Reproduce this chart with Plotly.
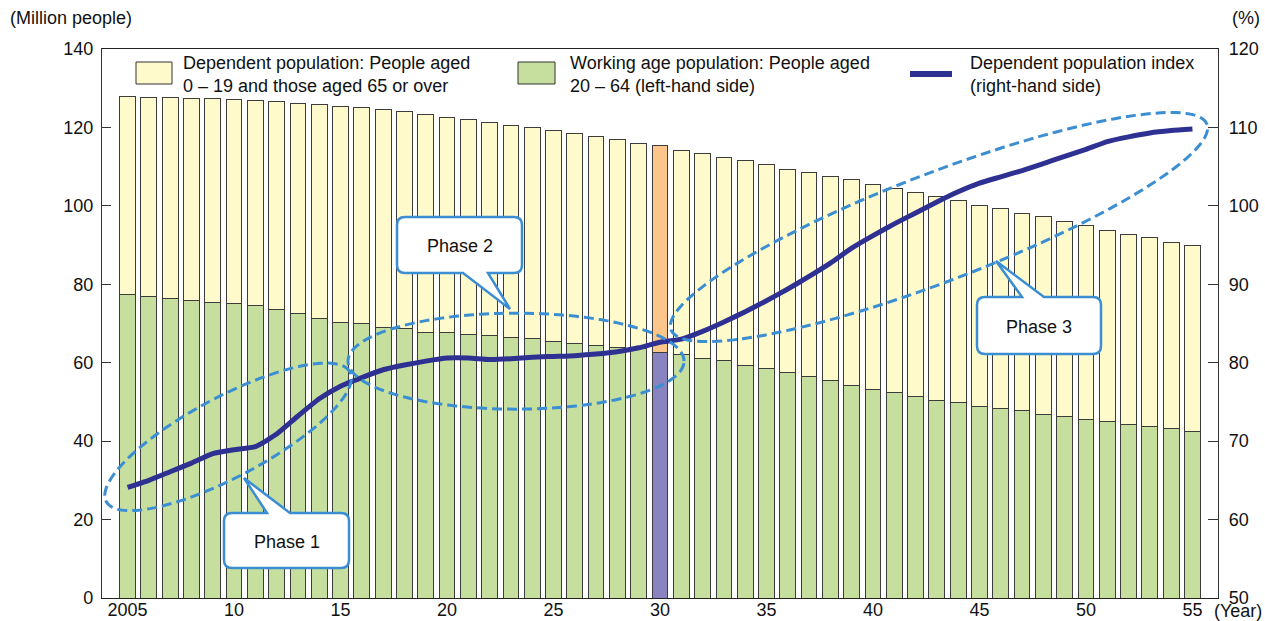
import math
import plotly.graph_objects as go

# ---------------- data ----------------
years = list(range(2005, 2056))
total_pop = [127.8, 127.7, 127.6, 127.4, 127.3, 127.1, 126.8, 126.5, 126.2, 125.8,
             125.4, 125.0, 124.5, 124.0, 123.3, 122.6, 121.9, 121.3, 120.6, 119.9,
             119.3, 118.5, 117.7, 116.9, 116.0, 115.3, 114.2, 113.4, 112.4, 111.5,
             110.6, 109.3, 108.5, 107.4, 106.6, 105.4, 104.5, 103.5, 102.5, 101.3,
             100.1, 99.3, 98.0, 97.2, 95.9, 94.9, 93.7, 92.8, 92.0, 90.6, 89.8]
working_pop = [77.4, 76.8, 76.4, 75.9, 75.3, 75.0, 74.7, 73.5, 72.5, 71.3,
               70.3, 69.9, 69.1, 68.6, 67.8, 67.6, 67.2, 66.9, 66.4, 66.1,
               65.4, 65.0, 64.5, 64.0, 63.5, 62.6, 62.1, 61.2, 60.6, 59.4,
               58.5, 57.5, 56.4, 55.4, 54.2, 53.2, 52.3, 51.4, 50.4, 49.8,
               48.9, 48.3, 47.7, 46.8, 46.2, 45.5, 44.9, 44.3, 43.7, 43.1, 42.5]
dependent_index = [64.1, 65.0, 66.1, 67.2, 68.4, 68.9, 69.3, 70.9, 73.2, 75.4,
                   77.0, 78.1, 79.1, 79.7, 80.2, 80.6, 80.6, 80.4, 80.5, 80.7,
                   80.8, 80.9, 81.1, 81.4, 81.9, 82.6, 83.0, 84.0, 85.2, 86.5,
                   87.9, 89.4, 91.0, 92.7, 94.6, 96.2, 97.7, 99.1, 100.5, 101.8,
                   102.9, 103.7, 104.5, 105.4, 106.3, 107.2, 108.2, 108.8, 109.3, 109.6, 109.8]
dependent_pop = [round(t - w, 2) for t, w in zip(total_pop, working_pop)]
highlight_year = 2030

xtick_vals = list(range(2005, 2056, 5))
xtick_text = ["2005", "10", "15", "20", "25", "30", "35", "40", "45", "50", "55"]

names = ["Dependent population: People aged<br>0 – 19 and those aged 65 or over",
         "Working age population: People aged<br>20 – 64 (left-hand side)",
         "Dependent population index<br>(right-hand side)"]

# Phase ellipses: (label, centre year, centre value on left axis, semi-axes px, angle deg)
phases = [("Phase 1", 2009.72, 41.1, 138, 40, 28),
          ("Phase 2", 2023.24, 60.4, 168, 48, 0),
          ("Phase 3", 2043.1, 94.6, 287, 54, 21)]

# ---------------- styling ----------------
FONT = "Liberation Sans, Arial, Helvetica, sans-serif"
YELLOW, GREEN = "#fffacc", "#c6df9f"
ORANGE, PURPLE = "#fcc68a", "#8983c0"
NAVY = "#2e3192"
BLUE = "#3b8ed2"
W, H = 1265, 621
PL, PR, PT, PB = 102, 47, 49, 23
PW, PH = W - PL - PR, H - PT - PB
X0, X1 = 2003.8, 2056.2
YMAX = 140


def xpx(year):
    return PL + (year - X0) / (X1 - X0) * PW


def ypx(val):
    return PT + PH - val / YMAX * PH


def paper(px, py):
    return (px - PL) / PW, (PT + PH - py) / PH


def fmt(px, py):
    a, b = paper(px, py)
    return f"{a:.5f},{b:.5f}"


fig = go.Figure()

green_cols = [PURPLE if y == highlight_year else GREEN for y in years]
yellow_cols = [ORANGE if y == highlight_year else YELLOW for y in years]

fig.add_trace(go.Bar(x=years, y=working_pop, marker=dict(color=green_cols, line=dict(color="#3c3c3c", width=1)),
                     width=0.74, name=names[1], showlegend=False))
fig.add_trace(go.Bar(x=years, y=dependent_pop, marker=dict(color=yellow_cols, line=dict(color="#3c3c3c", width=1)),
                     width=0.74, name=names[0], showlegend=False))
fig.add_trace(go.Scatter(x=years, y=dependent_index, yaxis="y2", mode="lines",
                         line=dict(color=NAVY, width=5, shape="spline", smoothing=0.5),
                         name=names[2], showlegend=False))

shapes = []
annotations = []

# ellipses
for label, cy_year, cy_val, a, b, ang in phases:
    cx, cy = xpx(cy_year), ypx(cy_val)
    th = math.radians(ang)
    pts = []
    n = 120
    for i in range(n + 1):
        t = 2 * math.pi * i / n
        u, v = a * math.cos(t), b * math.sin(t)
        dx = u * math.cos(th) - v * math.sin(th)
        dy = u * math.sin(th) + v * math.cos(th)
        pts.append(fmt(cx + dx, cy - dy))
    path = "M" + " L".join(pts) + " Z"
    shapes.append(dict(type="path", xref="paper", yref="paper", path=path,
                       line=dict(color=BLUE, width=3, dash="10px,5px"), layer="above"))


# callouts
def callout(x0, y0, x1, y1, side, b0, b1, tip, r=8):
    p = [f"M{fmt(x0 + r, y0)}"]
    if side == "top":
        p += [f"L{fmt(b0, y0)}", f"L{fmt(*tip)}", f"L{fmt(b1, y0)}"]
    p += [f"L{fmt(x1 - r, y0)}", f"Q{fmt(x1, y0)} {fmt(x1, y0 + r)}",
          f"L{fmt(x1, y1 - r)}", f"Q{fmt(x1, y1)} {fmt(x1 - r, y1)}"]
    if side == "bottom":
        p += [f"L{fmt(b1, y1)}", f"L{fmt(*tip)}", f"L{fmt(b0, y1)}"]
    p += [f"L{fmt(x0 + r, y1)}", f"Q{fmt(x0, y1)} {fmt(x0, y1 - r)}",
          f"L{fmt(x0, y0 + r)}", f"Q{fmt(x0, y0)} {fmt(x0 + r, y0)}", "Z"]
    return " ".join(p)


callouts = [("Phase 1", (224, 513, 349, 568), "top", (267, 290), (244, 478)),
            ("Phase 2", (397, 217, 522, 273), "bottom", (463, 488), (510, 309)),
            ("Phase 3", (977, 297, 1101, 354), "top", (1022, 1044), (996, 261))]
for label, (x0, y0, x1, y1), side, (b0, b1), tip in callouts:
    shapes.append(dict(type="path", xref="paper", yref="paper",
                       path=callout(x0, y0, x1, y1, side, b0, b1, tip),
                       fillcolor="white", line=dict(color=BLUE, width=2.5), layer="above"))
    cxp, cyp = paper((x0 + x1) / 2, (y0 + y1) / 2 + 1)
    annotations.append(dict(xref="paper", yref="paper", x=cxp, y=cyp, text=label, showarrow=False,
                            font=dict(size=18, color="#111", family=FONT), xanchor="center", yanchor="middle"))

# legend (custom)
for (sx0, sy0, sx1, sy1), col, tx, txt in [((136, 62, 172, 84), YELLOW, 181, names[0]),
                                           ((518, 62, 555, 84), GREEN, 568, names[1])]:
    a0, b0_ = paper(sx0, sy1)
    a1, b1_ = paper(sx1, sy0)
    shapes.append(dict(type="rect", xref="paper", yref="paper", x0=a0, y0=b0_, x1=a1, y1=b1_,
                       fillcolor=col, line=dict(color="#333", width=1), layer="above"))
    ax, ay = paper(tx, 74.5)
    annotations.append(dict(xref="paper", yref="paper", x=ax, y=ay, text=txt, showarrow=False, align="left",
                            xanchor="left", yanchor="middle", font=dict(size=18, color="#111", family=FONT)))
la, lb = paper(910, 74)
lc, _ = paper(952, 74)
shapes.append(dict(type="line", xref="paper", yref="paper", x0=la, y0=lb, x1=lc, y1=lb,
                   line=dict(color=NAVY, width=6), layer="above"))
ax, ay = paper(968, 74.5)
annotations.append(dict(xref="paper", yref="paper", x=ax, y=ay, text=names[2], showarrow=False, align="left",
                        xanchor="left", yanchor="middle", font=dict(size=18, color="#111", family=FONT)))

# axis titles
for txt, px, py in [("(Million people)", 8, 18), ("(%)", 1230, 18), ("(Year)", 1212, 611)]:
    ax, ay = paper(px, py)
    annotations.append(dict(xref="paper", yref="paper", x=ax, y=ay, text=txt, showarrow=False,
                            xanchor="left", yanchor="middle", font=dict(size=18, color="#111", family=FONT)))

axis_font = dict(size=18, color="#111", family=FONT)
fig.update_layout(
    width=W, height=H, margin=dict(l=PL, r=PR, t=PT, b=PB, autoexpand=False),
    paper_bgcolor="white", plot_bgcolor="white",
    barmode="stack", showlegend=False, font=dict(family=FONT, size=18, color="#111"),
    xaxis=dict(range=[X0, X1], tickvals=xtick_vals, ticktext=xtick_text, showgrid=False, zeroline=False,
               showline=True, mirror=True, linecolor="#222", linewidth=1.3, ticks="", tickfont=axis_font,
               automargin=False, ticklabelstandoff=-5),
    yaxis=dict(range=[0, YMAX], dtick=20, showgrid=False, zeroline=False, showline=True,
               linecolor="#333", linewidth=1.3, ticks="inside", ticklen=9, tickcolor="#333",
               tickfont=axis_font, ticklabelstandoff=4, automargin=False),
    yaxis2=dict(range=[50, 120], dtick=10, overlaying="y", side="right", showgrid=False, zeroline=False,
                showline=True, linecolor="#333", linewidth=1.3, ticks="inside", ticklen=10, tickcolor="#333",
                tickfont=axis_font, ticklabelstandoff=6, automargin=False),
    shapes=shapes, annotations=annotations,
)

fig.write_html("out.html")
